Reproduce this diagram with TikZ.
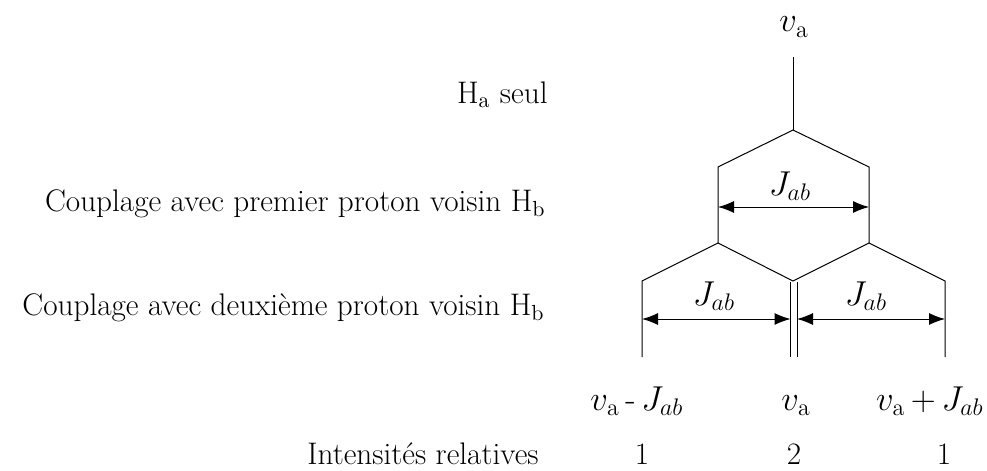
\documentclass[tikz,border=0pt]{standalone}
\usetikzlibrary{arrows.meta}
\begin{document}
\begin{tikzpicture}[x=0.5pt,y=-0.5pt,
  tree/.style={line width=0.5pt, black},
  dim/.style={line width=0.5pt, black, {Latex[length=8pt,width=6pt]}-{Latex[length=8pt,width=6pt]}},
  txt/.style={inner sep=0pt, font=\fontsize{15.6}{18}\selectfont},
  mlab/.style={inner sep=0pt, font=\fontsize{17}{20}\selectfont}]
\path[use as bounding box] (0,0) rectangle (987,471);
% tree points
\coordinate (t0) at (793,57);
\coordinate (t1) at (793,130);
\coordinate (l1) at (718,167);
\coordinate (r1) at (869,167);
\coordinate (l2) at (718,243);
\coordinate (r2) at (869,243);
\coordinate (m3) at (793,281);
\coordinate (ll3) at (642,281);
\coordinate (rr3) at (945,281);
\coordinate (ml3) at (790.5,282);
\coordinate (mr3) at (797,282);
\coordinate (ll4) at (642,357);
\coordinate (rr4) at (945,357);
\coordinate (ml4) at (790.5,357);
\coordinate (mr4) at (797,357);
% arrow ends
\coordinate (a1l) at (718,207);
\coordinate (a1r) at (869,207);
\coordinate (a2l) at (642,319);
\coordinate (a2m) at (790.5,319);
\coordinate (a2n) at (797,319);
\coordinate (a2r) at (945,319);

\draw[tree] (t0) -- (t1);
\draw[tree] (l2) -- (l1) -- (t1) -- (r1) -- (r2);
\draw[tree] (ll4) -- (ll3) -- (l2) -- (m3) -- (r2) -- (rr3) -- (rr4);
\draw[tree] (ml3) -- (ml4);
\draw[tree] (mr3) -- (mr4);
\draw[dim] (a1l) -- (a1r);
\draw[dim] (a2l) -- (a2m);
\draw[dim] (a2n) -- (a2r);

% labels on tree
\node[mlab, anchor=base] (top) at (794,32) {$v_{\mathrm{a}}$};
\node[mlab, anchor=base] (j1) at (790,195) {$J_{ab}$};
\node[mlab, anchor=base] (j2) at (714,305) {$J_{ab}$};
\node[mlab, anchor=base] (j3) at (866,305) {$J_{ab}$};
\node[mlab, anchor=base west] (b1) at (590,410) {$v_{\mathrm{a}}\,\mbox{-}\,J_{ab}$};
\node[mlab, anchor=base] (b2) at (796,410) {$v_{\mathrm{a}}$};
\node[mlab, anchor=base east] (b3) at (984,410) {$v_{\mathrm{a}}\,{+}\,J_{ab}$};

% left texts
\node[txt, anchor=base east] (s1) at (548,103) {H\textsubscript{a} seul};
\node[txt, anchor=base east] (s2) at (546,211) {Couplage avec premier proton voisin H\textsubscript{b}};
\node[txt, anchor=base east] (s3) at (545,315) {Couplage avec deuxième proton voisin H\textsubscript{b}};
\node[txt, anchor=base east] (s4) at (539,464) {Intensités relatives};
\node[txt, anchor=base] (n1) at (642,464) {1};
\node[txt, anchor=base] (n2) at (794,464) {2};
\node[txt, anchor=base] (n3) at (944,464) {1};
\end{tikzpicture}
\end{document}
